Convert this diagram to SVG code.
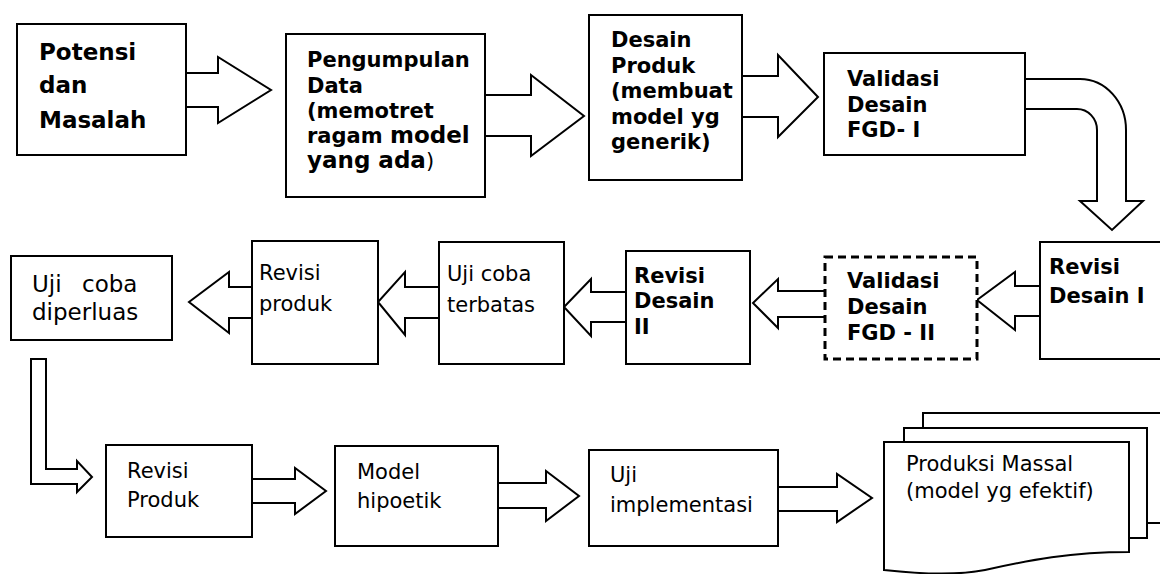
<svg xmlns="http://www.w3.org/2000/svg" width="1160" height="574" viewBox="0 0 1160 574">
<style>
.box{fill:#fff;stroke:#000;stroke-width:2}
.dash{fill:#fff;stroke:#000;stroke-width:3;stroke-dasharray:8 5}
.arr{fill:#fff;stroke:#000;stroke-width:2;stroke-linejoin:miter}
.b{font-family:"DejaVu Sans","Liberation Sans",sans-serif;font-weight:bold;font-size:21px;fill:#000}
.r{font-family:"DejaVu Sans","Liberation Sans",sans-serif;font-size:21px;fill:#000}
</style>
<rect width="1160" height="574" fill="#fff"/>
<g id="connectors">
<path class="arr" d="M186,73 H218 V57 L271,90 L218,123 V107 H186"/>
<path class="arr" d="M485,95 H531 V75 L584,116 L531,156 V136 H485"/>
<path class="arr" d="M742,76 H778 V55 L818,97 L778,137 V117 H742"/>
<path class="arr" d="M1025,79 H1080 A46,51 0 0 1 1126,130 V201 H1143 L1112,230 L1080,201 H1097 V130 A20,21 0 0 0 1077,109 H1025"/>
<path class="arr" d="M1040,286 H1015 V272 L977,300 L1015,330 V316 H1040"/>
<path class="arr" d="M825,291 H778 V279 L753,303 L778,328 V317 H825"/>
<path class="arr" d="M626,292 H591 V279 L564,307 L591,336 V322 H626"/>
<path class="arr" d="M439,287 H405 V272 L378,302 L405,335 V318 H439"/>
<path class="arr" d="M252,287 H229 V272 L189,302 L229,333 V318 H252"/>
<path class="arr" d="M31,359 H46 V469 H77 V461 L92,477 L77,492 V484 H31 Z"/>
<path class="arr" d="M252,479 H295 V468 L326,491 L295,514 V503 H252"/>
<path class="arr" d="M498,483 H546 V471 L579,496 L546,521 V508 H498"/>
<path class="arr" d="M778,487 H837 V474 L872,498 L837,522 V511 H778"/>
</g>
<g id="n1">
<rect class="box" x="17" y="24" width="169" height="131"/>
<text class="b" style="font-size:23px" x="39" y="60">Potensi</text>
<text class="b" style="font-size:23px" x="39" y="93">dan</text>
<text class="b" style="font-size:23px" x="39" y="128">Masalah</text>
</g>
<g id="n2">
<rect class="box" x="286" y="34" width="199" height="163"/>
<text class="b" x="307" y="67">Pengumpulan</text>
<text class="b" x="307" y="93">Data</text>
<text class="b" x="307" y="118">(memotret</text>
<text class="b" x="307" y="143">ragam <tspan style="font-size:23px">model</tspan></text>
<text class="b" x="307" y="168"><tspan style="font-size:23px">yang ada</tspan><tspan style="font-weight:normal">)</tspan></text>
</g>
<g id="n3">
<rect class="box" x="589" y="15" width="153" height="165"/>
<text class="b" x="611" y="47">Desain</text>
<text class="b" x="611" y="73">Produk</text>
<text class="b" x="611" y="98">(membuat</text>
<text class="b" x="611" y="124">model yg</text>
<text class="b" x="611" y="149">generik)</text>
</g>
<g id="n4">
<rect class="box" x="824" y="53" width="201" height="102"/>
<text class="b" x="847" y="86">Validasi</text>
<text class="b" x="847" y="112">Desain</text>
<text class="b" x="847" y="137">FGD- I</text>
</g>
<g id="n5">
<rect class="box" x="1040" y="242" width="140" height="117"/>
<text class="b" x="1049" y="274">Revisi</text>
<text class="b" x="1049" y="303">Desain I</text>
</g>
<g id="n6">
<rect class="dash" x="825" y="257" width="152" height="102"/>
<text class="b" x="847" y="288">Validasi</text>
<text class="b" x="847" y="314">Desain</text>
<text class="b" x="847" y="340">FGD - II</text>
</g>
<g id="n7">
<rect class="box" x="626" y="251" width="124" height="113"/>
<text class="b" x="634" y="283">Revisi</text>
<text class="b" x="634" y="308">Desain</text>
<text class="b" x="634" y="334">II</text>
</g>
<g id="n8">
<rect class="box" x="439" y="242" width="125" height="122"/>
<text class="r" x="447" y="281">Uji coba</text>
<text class="r" x="447" y="312">terbatas</text>
</g>
<g id="n9">
<rect class="box" x="252" y="241" width="126" height="123"/>
<text class="r" x="259" y="280">Revisi</text>
<text class="r" x="259" y="311">produk</text>
</g>
<g id="n10">
<rect class="box" x="11" y="256" width="161" height="84"/>
<text class="r" style="font-size:23px" x="32" y="292">Uji</text>
<text class="r" style="font-size:23px" x="82" y="292">coba</text>
<text class="r" style="font-size:23px" x="32" y="320">diperluas</text>
</g>
<g id="n11">
<rect class="box" x="106" y="445" width="146" height="92"/>
<text class="r" x="127" y="478">Revisi</text>
<text class="r" x="127" y="507">Produk</text>
</g>
<g id="n12">
<rect class="box" x="335" y="446" width="163" height="100"/>
<text class="r" x="357" y="479">Model</text>
<text class="r" x="357" y="508">hipoetik</text>
</g>
<g id="n13">
<rect class="box" x="589" y="450" width="189" height="96"/>
<text class="r" x="610" y="482">Uji</text>
<text class="r" x="610" y="512">implementasi</text>
</g>
<g id="n14">
<path class="box" d="M923,520 V413 H1175 V523 H923 Z"/>
<path class="box" d="M904,538 V428 H1147 V538 Z"/>
<path class="box" d="M884,442 H1129 V552 C1070,552 1030,560 985,570 C955,576 920,574 884,570 Z"/>
<text class="r" x="906" y="471">Produksi Massal</text>
<text class="r" x="906" y="498">(model yg efektif)</text>
</g>
</svg>
